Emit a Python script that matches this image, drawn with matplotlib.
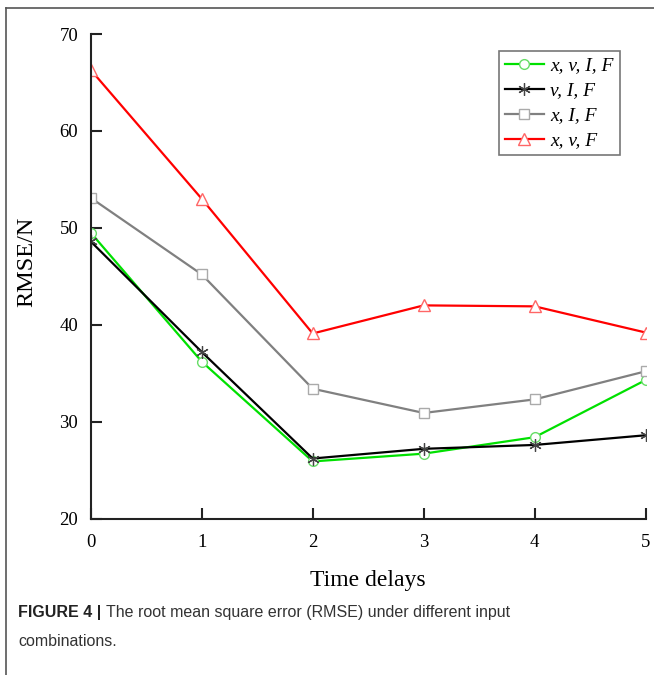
import numpy as np
import matplotlib
matplotlib.use('Agg')
import matplotlib.pyplot as plt
from matplotlib.lines import Line2D

delays = [0, 1, 2, 3, 4, 5]
rmse_xvIF = [49.5, 36.2, 25.9, 26.7, 28.4, 34.3]
rmse_vIF = [48.6, 37.2, 26.2, 27.2, 27.6, 28.6]
rmse_xIF = [53.1, 45.2, 33.4, 30.9, 32.3, 35.2]
rmse_xvF = [66.3, 53.0, 39.1, 42.0, 41.9, 39.2]
labels = ['x, v, I, F', 'v, I, F', 'x, I, F', 'x, v, F']

serif = ['Liberation Serif', 'DejaVu Serif']
sans = ['Liberation Sans', 'DejaVu Sans']

fig = plt.figure(figsize=(6.54, 6.75), dpi=100)
ax = fig.add_axes([0.1387, 0.2317, 0.8486, 0.7179])

ax.plot(delays, rmse_xvIF, color='#00e000', lw=1.6, marker='o', ms=7,
        mfc='white', mec='#66dd66', label=labels[0])
ax.plot(delays, rmse_vIF, color='black', lw=1.6, marker=(6, 2, 0), ms=9,
        mec='#444444', mew=0.9, label=labels[1])
ax.plot(delays, rmse_xIF, color='#808080', lw=1.6, marker='s', ms=6.5,
        mfc='white', mec='#aaaaaa', label=labels[2])
ax.plot(delays, rmse_xvF, color='#ff0000', lw=1.6, marker='^', ms=8,
        mfc='white', mec='#ff6666', label=labels[3])

ax.set_xlim(0, 5)
ax.set_ylim(20, 70)
ax.set_xticks(delays)
ax.set_yticks([20, 30, 40, 50, 60, 70])
for s in ['top', 'right']:
    ax.spines[s].set_visible(False)
for s in ['left', 'bottom']:
    ax.spines[s].set_linewidth(1.5)
    ax.spines[s].set_color('#222222')
ax.tick_params(direction='in', length=8, width=1.5, color='#222222')
ax.tick_params(axis='y', pad=9)
ax.tick_params(axis='x', pad=11)
for t in ax.get_xticklabels() + ax.get_yticklabels():
    t.set_family(serif)
    t.set_fontsize(13.5)

ax.set_xlabel('Time delays', family=serif, fontsize=17, labelpad=14)
ax.set_ylabel('RMSE/N', family=serif, fontsize=17.5)
ax.yaxis.set_label_coords(-0.097, 0.53)

leg = ax.legend(loc='upper right', bbox_to_anchor=(0.953, 0.965),
                prop={'family': serif, 'style': 'italic', 'size': 14},
                frameon=True, fancybox=False, edgecolor='#555555',
                handlelength=2.0, labelspacing=0.38, borderpad=0.3,
                handletextpad=0.35, borderaxespad=0)
leg.get_frame().set_linewidth(1.2)

# panel frame
fig.add_artist(Line2D([6 / 654, 1], [1 - 8 / 675, 1 - 8 / 675], color='#555555', lw=1.2))
fig.add_artist(Line2D([6 / 654, 6 / 654], [0, 1 - 8 / 675], color='#555555', lw=1.2))

cap_bold = fig.text(18 / 654, 1 - 612 / 675, 'FIGURE 4 |', family=sans,
                    fontsize=11.5, weight='bold', va='center', color='#222222')
fig.canvas.draw()
bb = cap_bold.get_window_extent()
fig.text((bb.x1 + 5) / 654, 1 - 612 / 675,
         'The root mean square error (RMSE) under different input',
         family=sans, fontsize=11.5, va='center', color='#333333')
fig.text(18 / 654, 1 - 641 / 675, 'combinations.', family=sans, fontsize=11.5,
         va='center', color='#333333')

fig.savefig('out.png', dpi=100)
